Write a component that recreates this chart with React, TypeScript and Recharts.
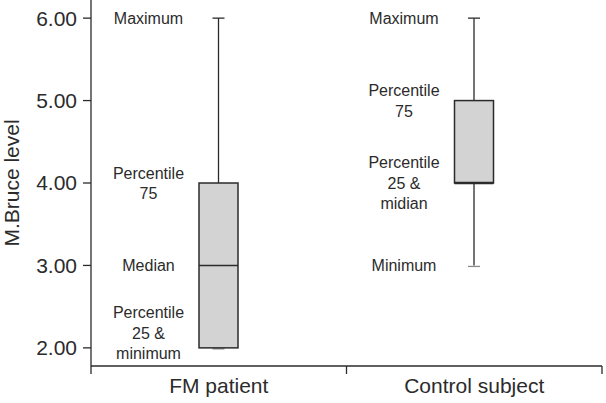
import { ComposedChart, Bar, XAxis, YAxis } from 'recharts';

const groups = ['FM patient', 'Control subject'];
const minimum = [2, 3];
const q1 = [2, 4];
const median = [3, 4];
const q3 = [4, 5];
const maximum = [6, 6];
const yTicks = [2, 3, 4, 5, 6];

// notes written left of each box, anchored on a value of the axis
const noteTexts = [
  [['Maximum'], ['Percentile', '75'], ['Median'], ['Percentile', '25 &', 'minimum']],
  [['Maximum'], ['Percentile', '75'], ['Percentile', '25 &', 'midian'], ['Minimum']],
];
const noteValues = [
  [6, 4, 3, 2.18],
  [6, 5, 4, 3],
];

const data = groups.map((g, i) => ({
  group: g,
  minimum: minimum[i],
  q1: q1[i],
  median: median[i],
  q3: q3[i],
  maximum: maximum[i],
  notes: noteTexts[i].map((lines, j) => ({ lines, value: noteValues[i][j] })),
}));

const FONT = '"Liberation Sans", Arial, sans-serif';
const INK = '#2b2b2b';
const HALF_BAND = 127.75;

const BoxShape = (props: any) => {
  const { x, y, width, height, payload } = props;
  const { minimum: lo, maximum: hi } = payload;
  const py = (v: number) => y + ((hi - v) / (hi - lo)) * height;
  const cx = x + width / 2;
  const cap = 6;
  return (
    <g>
      <line x1={cx} x2={cx} y1={py(payload.maximum)} y2={py(payload.q3)} stroke={INK} strokeWidth={1.3} />
      <line x1={cx} x2={cx} y1={py(payload.q1)} y2={py(payload.minimum)} stroke={INK} strokeWidth={1.3} />
      <line x1={cx - cap} x2={cx + cap} y1={py(payload.maximum)} y2={py(payload.maximum)} stroke={INK} strokeWidth={1.3} />
      <line x1={cx - cap} x2={cx + cap} y1={py(payload.minimum) + 1} y2={py(payload.minimum) + 1} stroke="#8a8a8a" strokeWidth={1.3} />
      <rect
        x={x}
        y={py(payload.q3)}
        width={width}
        height={py(payload.q1) - py(payload.q3)}
        fill="#d3d3d3"
        stroke={INK}
        strokeWidth={1.5}
      />
      <line x1={x} x2={x + width} y1={py(payload.median)} y2={py(payload.median)} stroke={INK} strokeWidth={payload.median === payload.q1 ? 2.5 : 1.5} />
      {payload.notes.map((n: any, i: number) => {
        const lh = 20.5;
        const top = py(n.value) - ((n.lines.length - 1) * lh) / 2;
        return (
          <text key={i} x={cx - 70} y={top} textAnchor="middle" fontSize={16} fontFamily={FONT} fill={INK}>
            {n.lines.map((l: string, k: number) => (
              <tspan key={k} x={cx - 70} y={top + k * lh} dy="0.36em">
                {l}
              </tspan>
            ))}
          </text>
        );
      })}
    </g>
  );
};

const GroupTick = (props: any) => {
  const { x, y, payload, index } = props;
  return (
    <g>
      {index === 0 && <line x1={x - HALF_BAND} x2={x - HALF_BAND} y1={y - 8} y2={y} stroke={INK} strokeWidth={1.3} />}
      <line x1={x + HALF_BAND} x2={x + HALF_BAND} y1={y - 8} y2={y} stroke={INK} strokeWidth={1.3} />
      <text x={x} y={y + 19} textAnchor="middle" fontSize={21} fontFamily={FONT} fill={INK}>
        {payload.value}
      </text>
    </g>
  );
};

export default function App() {
  return (
    <div style={{ position: 'absolute', left: 0, top: 0, background: '#fff' }}>
      <ComposedChart width={606} height={403} data={data} margin={{ top: 0, right: 4, bottom: 0, left: 0 }}>
        <XAxis
          dataKey="group"
          height={37}
          tickLine={false}
          tickSize={8}
          tickMargin={0}
          axisLine={{ stroke: INK, strokeWidth: 1.3 }}
          tick={<GroupTick />}
          interval={0}
        />
        <YAxis
          width={91}
          type="number"
          domain={[1.78, 6.22]}
          ticks={yTicks}
          interval={0}
          tickSize={8}
          tickMargin={6}
          tickFormatter={(v: number) => v.toFixed(2)}
          tick={{ fontSize: 21, fontFamily: FONT, fill: INK }}
          tickLine={{ stroke: INK, strokeWidth: 1.3 }}
          axisLine={{ stroke: INK, strokeWidth: 1.3 }}
          label={{
            value: 'M.Bruce level',
            angle: -90,
            position: 'insideLeft',
            offset: 12,
            style: { textAnchor: 'middle', fontSize: 21, fontFamily: FONT, fill: INK },
          }}
        />
        <Bar
          dataKey={(d: any) => [d.minimum, d.maximum]}
          barSize={39}
          shape={<BoxShape />}
          isAnimationActive={false}
        />
      </ComposedChart>
    </div>
  );
}
